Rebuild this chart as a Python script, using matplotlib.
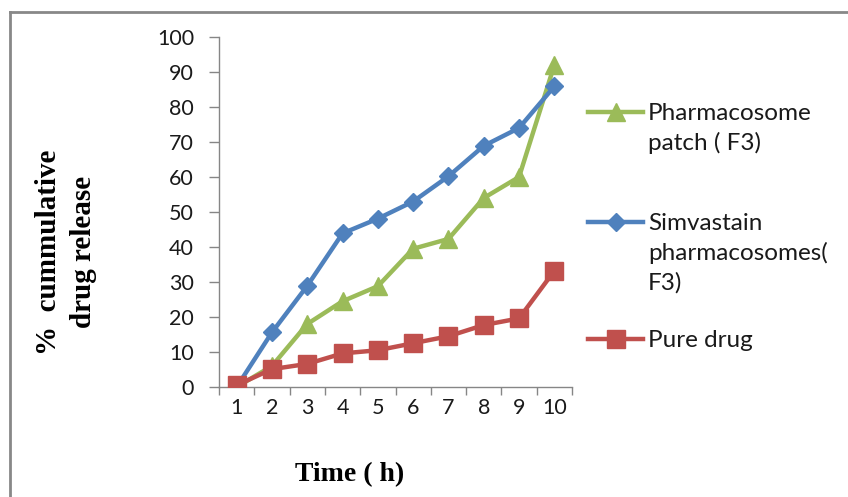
import numpy as np
import matplotlib

matplotlib.use("Agg")
import matplotlib.pyplot as plt
from matplotlib.lines import Line2D

hours = [1, 2, 3, 4, 5, 6, 7, 8, 9, 10]
patch_f3 = [0, 6, 18, 24.5, 28.8, 39.5, 42.3, 54, 60, 92]
simva_f3 = [0, 15.6, 28.9, 43.9, 48.1, 53, 60.2, 68.9, 74, 85.9]
pure_drug = [0.5, 5.1, 6.6, 9.6, 10.5, 12.5, 14.5, 17.7, 19.6, 33.2]
labels = ["Pharmacosome\npatch ( F3)", "Simvastain\npharmacosomes(\nF3)", "Pure drug"]

GREEN = "#9BBB59"
BLUE = "#4F81BD"
RED = "#C0504D"
GRAY = "#868686"
SANS = "Lato"
SERIF = "Liberation Serif"

W, H = 848, 497
fig = plt.figure(figsize=(W / 100, H / 100), dpi=100)
ax = fig.add_axes([219 / W, 1 - 387 / H, (572 - 219) / W, (387 - 37) / H])

x = np.array(hours)
LW = 3.2
ax.plot(x, patch_f3, "-^", color=GREEN, lw=LW, ms=12.5, zorder=3)
ax.plot(x, simva_f3, "-D", color=BLUE, lw=LW, ms=9.5, zorder=4)
ax.plot(x, pure_drug, "-s", color=RED, lw=LW, ms=12.5, zorder=5)

ax.set_xlim(0.5, 10.5)
ax.set_ylim(0, 100)
ax.set_yticks(np.arange(0, 101, 10))
ax.set_xticks(np.arange(0.5, 11, 1))
ax.set_xticklabels([])
ax.set_xticks(x, minor=True)
ax.set_xticklabels([str(h) for h in hours], minor=True)
ax.tick_params(axis="x", which="major", length=6, width=1, color=GRAY, direction="out")
ax.tick_params(axis="x", which="minor", length=0, pad=8, labelsize=15.5, labelcolor="#1a1a1a")
ax.tick_params(axis="y", length=7, width=1, color=GRAY, pad=11, labelsize=15.5, labelcolor="#1a1a1a")
for lab in ax.get_xticklabels(minor=True) + ax.get_yticklabels():
    lab.set_fontfamily(SANS)

for s in ("top", "right"):
    ax.spines[s].set_visible(False)
for s in ("left", "bottom"):
    ax.spines[s].set_color(GRAY)
    ax.spines[s].set_linewidth(1)

fig.text(66 / W, 1 - 252 / H, "%  cummulative\ndrug release", rotation=90, ha="center", va="center",
         fontsize=21, fontweight="bold", family=SERIF, linespacing=1.35)
fig.text(350 / W, 1 - 475 / H, "Time ( h)", ha="center", va="center",
         fontsize=20, fontweight="bold", family=SERIF)

# legend, drawn by hand to keep markers on the first text line
entries = [(GREEN, "^", 12.5, 112), (BLUE, "D", 9.5, 222), (RED, "s", 12.5, 339)]
for (c, m, ms, yp), lab in zip(entries, labels):
    yf = 1 - yp / H
    fig.add_artist(Line2D([588 / W, 643 / W], [yf, yf], color=c, lw=LW))
    fig.add_artist(Line2D([615.5 / W], [yf], marker=m, ms=ms, color=c))
    fig.text(648 / W, yf + 9 / H, lab, ha="left", va="top", fontsize=17.5, family=SANS,
             color="#1a1a1a", linespacing=1.45)

# outer frame
fig.add_artist(Line2D([10 / W, 10 / W], [0, 1 - 12 / H], color="#888888", lw=2))
fig.add_artist(Line2D([10 / W, 1], [1 - 12 / H, 1 - 12 / H], color="#888888", lw=2))

fig.savefig("out.png", dpi=100)
